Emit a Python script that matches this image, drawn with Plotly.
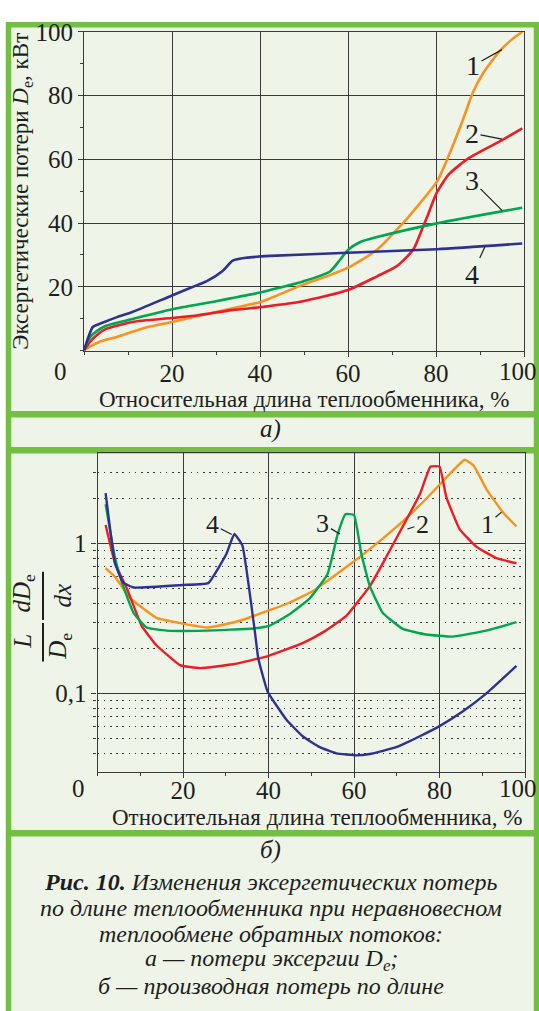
import math
import plotly.graph_objects as go

W, H = 539, 1011

# ---------------- data: panel a) exergy losses D_e, kW ----------------
x_a1 = [0, 1.4, 3.6, 7.5, 11, 14.5, 20, 26, 30, 33.5, 40, 42.3, 49.8, 55, 60, 66.6, 72.5, 75, 80.2, 83, 86, 88.4, 90.7, 94.5, 97, 99.6]
y_a1 = [0, 1.3, 2.8, 4.3, 5.9, 7.4, 9.0, 10.9, 12.1, 13.2, 15.2, 16.4, 20.7, 23.2, 26.0, 31.6, 40.0, 44.0, 53.0, 61.5, 72.0, 81.0, 87.0, 94.0, 97.3, 100.0]

x_a2 = [0, 1.4, 3, 5, 11, 20, 26, 33.5, 40, 42.3, 49.8, 60, 66.6, 71, 74.8, 77, 78, 80.2, 83, 87.6, 95, 99.6]
y_a2 = [0, 2.8, 5.0, 6.8, 9.0, 10.2, 11.1, 12.7, 13.6, 14.0, 15.5, 19.0, 23.3, 26.4, 31.6, 38.7, 42.0, 49.6, 55.4, 60.5, 66.0, 69.7]

x_a3 = [0, 1.4, 3, 5, 11, 20, 30, 40, 42.3, 49.8, 55.9, 58.2, 60, 62.7, 66.6, 80.2, 99.6]
y_a3 = [0, 4.3, 6.2, 7.8, 9.9, 13.0, 15.5, 18.2, 19.0, 21.7, 24.8, 28.5, 31.6, 34.0, 35.6, 39.9, 44.8]

x_a4 = [0, 2, 3.6, 7.5, 11, 20, 26, 27.8, 31.5, 33.8, 36.8, 42.3, 60, 80.2, 99.6]
y_a4 = [0, 7.4, 8.4, 10.5, 12.1, 17.3, 20.7, 21.7, 25.0, 28.2, 29.1, 29.7, 30.7, 31.8, 33.6]

# ---------------- data: panel б) derivative (L/D_e)(dD_e/dx) ----------------
x_b1 = [1.9, 4.1, 7.6, 13.8, 20, 25.9, 33.3, 39.9, 45, 50.4, 55.9, 60.6, 66.7, 73, 77.7, 81.6, 85.9, 88, 91, 94.8, 98]
y_b1 = [0.685, 0.6, 0.435, 0.32, 0.293, 0.276, 0.306, 0.357, 0.405, 0.483, 0.625, 0.785, 1.08, 1.55, 2.1, 2.76, 3.62, 3.31, 2.3, 1.62, 1.3]

x_b2 = [1.9, 4.1, 6.9, 10.3, 13.8, 19.3, 24, 31.7, 39.9, 48, 52.7, 58.2, 63.7, 67.6, 71.4, 75.4, 77.9, 80, 81.6, 84.7, 88.6, 93.3, 98]
y_b2 = [1.33, 0.74, 0.5, 0.284, 0.21, 0.155, 0.148, 0.157, 0.178, 0.217, 0.256, 0.33, 0.52, 0.82, 1.3, 2.13, 3.26, 3.26, 2.04, 1.25, 0.955, 0.8, 0.74]

x_b3 = [1.9, 4.1, 6, 8.4, 11.5, 16.2, 25.5, 36.4, 40.3, 45, 49.6, 53.8, 56.2, 58, 60, 61.7, 63.7, 66.7, 71.4, 76.9, 83, 90.9, 98]
y_b3 = [1.83, 0.8, 0.52, 0.347, 0.276, 0.263, 0.263, 0.272, 0.284, 0.34, 0.43, 0.625, 1.16, 1.57, 1.55, 0.86, 0.52, 0.346, 0.27, 0.248, 0.24, 0.263, 0.30]

x_b4 = [1.9, 4.1, 6.0, 8.4, 20, 25.9, 30.2, 32.0, 33.9, 36.8, 37.6, 39.8, 44.2, 48, 52, 55.9, 60.6, 63.7, 69.9, 75.4, 80, 85.4, 90.9, 98]
y_b4 = [2.17, 0.74, 0.55, 0.51, 0.53, 0.545, 0.86, 1.16, 0.97, 0.26, 0.172, 0.103, 0.067, 0.052, 0.044, 0.040, 0.0388, 0.0396, 0.044, 0.052, 0.0607, 0.076, 0.1, 0.153]

colors = ["#f7931e", "#ed1c24", "#00a551", "#2e3192"]

x_ticks = [20, 40, 60, 80, 100]
x_ticktext = ["20", "40", "60", "80", ""]   # "100" is set separately, pulled inside the frame
y_ticks_a = [20, 40, 60, 80, 100]
y_ticks_b = [0.1, 1]
y_ticktext_b = ["0,1", "1"]
y_minor_b = [0.04, 0.05, 0.06, 0.07, 0.08, 0.09, 0.2, 0.3, 0.4, 0.5, 0.6, 0.7, 0.8, 0.9, 2, 3]

x_title = "Относительная длина теплообменника, %"
y_title_a = "Эксергетические потери <i>D</i><sub>e</sub>, кВт"
caption_lines = [
    "<b><i>Рис. 10.</i></b><i> Изменения эксергетических потерь</i>",
    "<i>по длине теплообменника при неравновесном</i>",
    "<i>теплообмене обратных потоков:</i>",
    "<i>а — потери эксергии D</i><sub><i>e</i></sub><i>;</i>",
    "<i>б — производная потерь по длине</i>",
]

# ---------------- styling helpers ----------------
FONT = "Liberation Serif"
GREEN = "#72bf44"
PANEL = "#eef4e8"
GRID = "#3a3a3a"
TXT = "#1e1e1e"
TICK_SIZE = 25


def px(x):
    return x / W


def py(y):
    return 1 - y / H


fig = go.Figure()

for xs, ys, c in zip([x_a1, x_a2, x_a3, x_a4], [y_a1, y_a2, y_a3, y_a4], colors):
    fig.add_trace(go.Scatter(x=xs, y=ys, mode="lines", xaxis="x", yaxis="y",
                             line=dict(color=c, width=2.6, shape="spline", smoothing=0.6),
                             hoverinfo="skip", showlegend=False))

for xs, ys, c in zip([x_b1, x_b2, x_b3, x_b4], [y_b1, y_b2, y_b3, y_b4], colors):
    fig.add_trace(go.Scatter(x=xs, y=ys, mode="lines", xaxis="x2", yaxis="y2",
                             line=dict(color=c, width=2.4, shape="spline", smoothing=0.35),
                             hoverinfo="skip", showlegend=False))

tickfont = dict(family=FONT, size=TICK_SIZE, color=TXT)

axis_common = dict(showline=True, linecolor=GRID, linewidth=1.2, mirror=True,
                   ticks="outside", ticklen=5, tickcolor=GRID, tickwidth=1,
                   showgrid=True, gridcolor=GRID, gridwidth=1, zeroline=False,
                   tickfont=tickfont, fixedrange=True)
minor_dec = dict(dtick=10, tick0=0, ticks="outside", ticklen=3, tickcolor=GRID, showgrid=False)

fig.update_layout(
    width=W, height=H,
    margin=dict(l=0, r=0, t=0, b=0),
    paper_bgcolor="white",
    plot_bgcolor=PANEL,
    showlegend=False,
    xaxis=dict(domain=[px(84), px(524)], anchor="y", range=[0, 100],
               tickmode="array", tickvals=x_ticks, ticktext=x_ticktext,
               ticklabelstandoff=-5, minor=minor_dec, **axis_common),
    yaxis=dict(domain=[py(342), py(19)], anchor="x", range=[0, 100],
               tickmode="array", tickvals=y_ticks_a, minor=minor_dec, **axis_common),
    xaxis2=dict(domain=[px(97.5), px(525)], anchor="y2", range=[0, 100],
                tickmode="array", tickvals=x_ticks, ticktext=x_ticktext,
                ticklabelstandoff=-9, minor=minor_dec, **axis_common),
    yaxis2=dict(domain=[py(769), py(446)], anchor="x2", type="log",
                range=[-1.523, 0.602],
                tickmode="array", tickvals=y_ticks_b, ticktext=y_ticktext_b,
                minor=dict(tickmode="array", tickvals=y_minor_b, ticks="outside", ticklen=3,
                           tickcolor=GRID, showgrid=True, gridcolor=GRID, gridwidth=1,
                           griddash="1.6px,4.6px"),
                **axis_common),
)

shapes = []
# panel background and green frame
shapes.append(dict(type="rect", xref="paper", yref="paper", x0=px(8.5), x1=px(536.5),
                   y0=py(1030), y1=py(12), fillcolor=PANEL, line=dict(color=GREEN, width=5.5),
                   layer="below"))
for yb in (406.5, 443, 831):
    shapes.append(dict(type="line", xref="paper", yref="paper", x0=px(6), x1=px(539),
                       y0=py(yb), y1=py(yb), line=dict(color=GREEN, width=6.5), layer="below"))
# fraction bars of the lower axis label
shapes.append(dict(type="line", xref="paper", yref="paper", x0=px(43), x1=px(43),
                   y0=py(618), y1=py(657), line=dict(color=TXT, width=2)))
shapes.append(dict(type="line", xref="paper", yref="paper", x0=px(43), x1=px(43),
                   y0=py(566), y1=py(615), line=dict(color=TXT, width=2)))
fig.update_layout(shapes=shapes)

ann = []


def text(x, y, s, size=23, angle=0, xanchor="center"):
    ann.append(dict(xref="paper", yref="paper", x=px(x), y=py(y), text=s, showarrow=False,
                    textangle=angle, xanchor=xanchor, yanchor="middle",
                    font=dict(family=FONT, size=size, color=TXT)))


# axis titles, corner zeros and the end labels of the x axes
text(60, 363, "0", size=TICK_SIZE)
text(78, 786, "0", size=TICK_SIZE)
text(518, 363, "100", size=TICK_SIZE)
text(518, 786, "100", size=TICK_SIZE)
text(304, 392, x_title, size=23)
text(317, 815, x_title, size=23)
text(22, 181, y_title_a, size=23, angle=-90)
text(23, 637, "<i>L</i>", size=25, angle=-90)
text(60, 642, "<i>D</i><sub>e</sub>", size=25, angle=-90)
text(23, 588, "<i>dD</i><sub>e</sub>", size=25, angle=-90)
text(62, 590, "<i>dx</i>", size=25, angle=-90)
text(270, 421, "<i>а)</i>", size=25)
text(270, 848, "<i>б)</i>", size=25)
for i, line in enumerate(caption_lines):
    text(271, 880 + i * 26.5, line, size=24)

# curve number labels with leader lines: (label, x, y on curve, dx, dy to label)
labels_a = [
    ("1", 95.0, 94.4, -29, 16),
    ("2", 95.0, 66.3, -30, -6),
    ("3", 95.0, 44.0, -30, -30),
    ("4", 91.1, 32.5, -13, 28),
]
labels_b = [
    ("4", 31.4, 1.15, -19, -10),
    ("3", 56.7, 1.16, -17, -10),
    ("2", 72.5, 1.25, 15, -5),
    ("1", 94.5, 1.62, -14, 12),
]
for name, x, y, dx, dy in labels_a:
    ann.append(dict(xref="x", yref="y", x=x, y=y, ax=dx, ay=dy, text=name, showarrow=True,
                    arrowhead=0, arrowwidth=1.2, arrowcolor=TXT, standoff=0,
                    font=dict(family=FONT, size=28, color=TXT)))
for name, x, y, dx, dy in labels_b:
    ann.append(dict(xref="x2", yref="y2", x=x, y=math.log10(y),
                    ax=dx, ay=dy, text=name, showarrow=True,
                    arrowhead=0, arrowwidth=1.2, arrowcolor=TXT, standoff=0,
                    font=dict(family=FONT, size=26, color=TXT)))

fig.update_layout(annotations=ann)

fig.write_html("out.html")
